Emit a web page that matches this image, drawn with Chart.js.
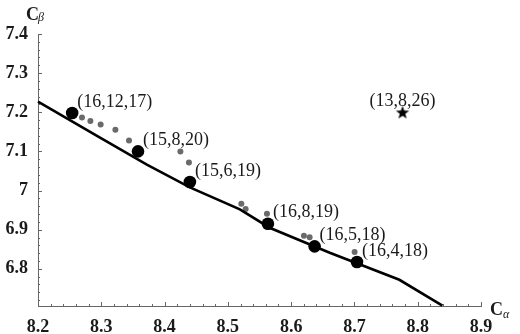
<!DOCTYPE html>
<html><head><meta charset="utf-8">
<script src="https://cdn.jsdelivr.net/npm/chart.js@4.4.0/dist/chart.umd.min.js"></script>
<style>html,body{margin:0;padding:0;background:#fff}#wrap{width:520px;height:334px;position:relative}</style>
</head><body><div id="wrap"><canvas id="c" width="520" height="334"></canvas></div>
<script>
// Boundary curve
const curveX = [8.2, 8.298, 8.372, 8.44, 8.519, 8.566, 8.661, 8.771, 8.839];
const curveY = [7.227, 7.135, 7.066, 7.008, 6.952, 6.905, 6.841, 6.772, 6.706];
// Small gray points
const smallX = [8.2695, 8.2828, 8.299, 8.3223, 8.3438, 8.425, 8.4385, 8.5213, 8.5281, 8.5618, 8.6202, 8.6292, 8.7003];
const smallY = [7.1865, 7.178, 7.1686, 7.1551, 7.1278, 7.0997, 7.0717, 6.9663, 6.9528, 6.9408, 6.8847, 6.8804, 6.8431];
// Large black points
const bigX = [8.254, 8.358, 8.44, 8.5633, 8.6371, 8.704];
const bigY = [7.198, 7.1, 7.022, 6.9153, 6.8574, 6.8176];
const bigLabels = ['(16,12,17)', '(15,8,20)', '(15,6,19)', '(16,8,19)', '(16,5,18)', '(16,4,18)'];
// Star point
const starX = [8.776];
const starY = [7.2];
const starLabels = ['(13,8,26)'];
// Axes
const xTicks = [8.2, 8.3, 8.4, 8.5, 8.6, 8.7, 8.8, 8.9];
const xTickLabels = ['8.2', '8.3', '8.4', '8.5', '8.6', '8.7', '8.8', '8.9'];
const yTicks = [6.8, 6.9, 7.0, 7.1, 7.2, 7.3, 7.4];
const yTickLabels = ['6.8', '6.9', '7', '7.1', '7.2', '7.3', '7.4'];
const xMin = 8.2, xMax = 8.9, yMin = 6.705, yMax = 7.4;

const pts = (xs, ys) => xs.map((x, i) => ({x: x, y: ys[i]}));

// filled five-point star image
const star = document.createElement('canvas');
star.width = 16; star.height = 16;
(function(){
  const g = star.getContext('2d');
  g.fillStyle = '#000';
  g.beginPath();
  for (let i = 0; i < 10; i++) {
    const r = i % 2 === 0 ? 7 : 2.9;
    const a = -Math.PI / 2 + i * Math.PI / 5;
    const px = 8 + r * Math.cos(a), py = 8.6 + r * Math.sin(a);
    if (i === 0) g.moveTo(px, py); else g.lineTo(px, py);
  }
  g.closePath(); g.fill();
})();

const SERIF = '"Liberation Serif", "DejaVu Serif", serif';

const decor = {
  id: 'decor',
  afterDraw(chart) {
    const ctx = chart.ctx;
    const xs = chart.scales.x, ys = chart.scales.y;
    const x0 = xs.getPixelForValue(xMin), y0 = ys.getPixelForValue(yMin);
    ctx.save();
    // minor / major tick marks
    ctx.strokeStyle = '#666';
    ctx.lineWidth = 1;
    ctx.beginPath();
    for (let i = 0; i <= 35; i++) {
      const v = xMin + i * 0.02;
      const px = Math.round(xs.getPixelForValue(v)) + 0.5;
      const len = i % 5 === 0 ? 4 : 2;
      ctx.moveTo(px, y0); ctx.lineTo(px, y0 - len);
    }
    for (let i = 0; i <= 30; i++) {
      const v = 6.8 + i * 0.02;
      if (v > yMax + 1e-9) break;
      const py = Math.round(ys.getPixelForValue(v)) + 0.5;
      const len = i % 5 === 0 ? 4 : 2;
      ctx.moveTo(x0, py); ctx.lineTo(x0 + len, py);
    }
    for (let i = 1; i <= 4; i++) {
      const v = 6.8 - i * 0.02;
      if (v < yMin) break;
      const py = Math.round(ys.getPixelForValue(v)) + 0.5;
      ctx.moveTo(x0, py); ctx.lineTo(x0 + 2, py);
    }
    ctx.stroke();

    // point labels
    ctx.fillStyle = '#1a1a1a';
    ctx.font = '18px ' + SERIF;
    ctx.textBaseline = 'middle';
    ctx.textAlign = 'left';
    bigLabels.forEach((t, i) => {
      const px = xs.getPixelForValue(bigX[i]), py = ys.getPixelForValue(bigY[i]);
      ctx.fillText(t, px + 5, py - 11);
    });
    ctx.textAlign = 'center';
    starLabels.forEach((t, i) => {
      const px = xs.getPixelForValue(starX[i]), py = ys.getPixelForValue(starY[i]);
      ctx.fillText(t, px, py - 11);
    });

    // axis titles
    ctx.textAlign = 'left';
    ctx.textBaseline = 'alphabetic';
    ctx.font = 'bold 18px ' + SERIF;
    ctx.fillText('C', 26, 20);
    ctx.font = 'italic 12px ' + SERIF;
    ctx.fillText('\u03B2', 38, 21);
    ctx.font = 'bold 18px ' + SERIF;
    ctx.fillText('C', 490, 315);
    ctx.font = 'italic 12px ' + SERIF;
    ctx.fillText('\u03B1', 503, 318);
    ctx.restore();
  }
};

new Chart(document.getElementById('c'), {
  type: 'scatter',
  data: {
    datasets: [
      {
        type: 'line', data: pts(curveX, curveY), borderColor: '#000', borderWidth: 2.6,
        pointRadius: 0, tension: 0, fill: false, clip: false
      },
      {
        data: pts(smallX, smallY), backgroundColor: '#6a6a6a', borderWidth: 0,
        pointRadius: 3, clip: false
      },
      {
        data: pts(bigX, bigY), backgroundColor: '#000', borderWidth: 0,
        pointRadius: 6.3, clip: false
      },
      {
        data: pts(starX, starY), pointStyle: star, pointRadius: 8, clip: false
      }
    ]
  },
  options: {
    responsive: false,
    animation: false,
    devicePixelRatio: 1,
    layout: {padding: {top: 34, right: 39, left: 0, bottom: 0}},
    plugins: {legend: {display: false}, tooltip: {enabled: false}},
    scales: {
      x: {
        type: 'linear', min: xMin, max: xMax,
        afterBuildTicks: s => { s.ticks = xTicks.map(v => ({value: v})); },
        afterFit: s => { s.height = 28; },
        grid: {display: false, drawTicks: false},
        border: {display: true, color: '#666', width: 1},
        ticks: {
          padding: 11, color: '#1a1a1a', font: {family: SERIF, size: 18, weight: 'bold'},
          maxRotation: 0, autoSkip: false,
          callback: (v, i) => xTickLabels[i]
        }
      },
      y: {
        type: 'linear', min: yMin, max: yMax,
        afterBuildTicks: s => { s.ticks = yTicks.map(v => ({value: v})); },
        afterFit: s => { s.width = 38; },
        grid: {display: false, drawTicks: false},
        border: {display: true, color: '#666', width: 1},
        ticks: {
          padding: 10, color: '#1a1a1a', font: {family: SERIF, size: 18, weight: 'bold'},
          autoSkip: false,
          callback: (v, i) => yTickLabels[i]
        }
      }
    }
  },
  plugins: [decor]
});
</script>
</body></html>
